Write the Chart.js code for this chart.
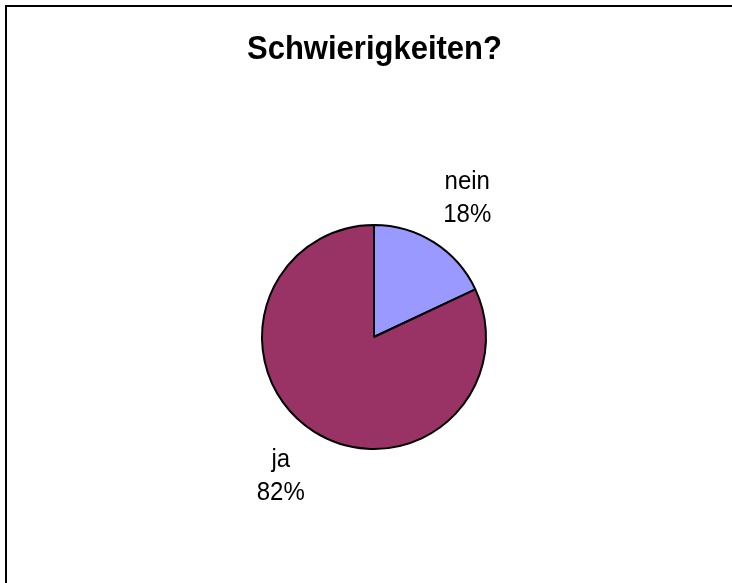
<!DOCTYPE html>
<html>
<head>
<meta charset="utf-8">
<script src="https://cdn.jsdelivr.net/npm/chart.js@4/dist/chart.umd.min.js"></script>
<style>
  html, body { margin: 0; padding: 0; background: #fff; }
  #wrap { position: relative; width: 732px; height: 583px; }
  #frame {
    position: absolute; left: 5px; top: 5px; right: 0; bottom: 0;
    border-top: 2px solid #000; border-left: 2px solid #000;
    pointer-events: none;
  }
</style>
</head>
<body>
<div id="wrap">
  <canvas id="pie" width="732" height="583"></canvas>
  <div id="frame"></div>
</div>
<script>
// chart data
const title = "Schwierigkeiten?";
const categories = ["nein", "ja"];
const shares = [18, 82];
const sliceColors = ["#9999FF", "#993366"];

// text drawn a little taller than wide, like the original export
function stretchedText(ctx, text, x, y, sy) {
  ctx.save();
  ctx.translate(x, y);
  ctx.scale(1, sy);
  ctx.fillText(text, 0, 0);
  ctx.restore();
}

// draws title and the outside "name / percent" labels
const labelPlugin = {
  id: "labels",
  afterDraw(chart) {
    const ctx = chart.ctx;
    ctx.save();
    ctx.fillStyle = "#000";
    ctx.textAlign = "center";
    ctx.textBaseline = "alphabetic";
    ctx.font = "bold 31px 'Liberation Sans', Arial, sans-serif";
    stretchedText(ctx, title, 374.5, 59, 1.1);

    ctx.font = "24px 'Liberation Sans', Arial, sans-serif";
    const meta = chart.getDatasetMeta(0);
    meta.data.forEach((arc, i) => {
      const mid = (arc.startAngle + arc.endAngle) / 2;
      const cos = Math.cos(mid), sin = Math.sin(mid);
      const dist = arc.outerRadius + 30;
      // push the label box outward so its near edge sits at dist
      const cx = arc.x + cos * dist + cos * 32;
      const cy = arc.y + sin * dist + sin * 23;
      stretchedText(ctx, categories[i], cx, cy - 9, 1.1);
      stretchedText(ctx, shares[i] + "%", cx, cy + 24, 1.1);
    });
    ctx.restore();
  }
};

new Chart(document.getElementById("pie"), {
  type: "pie",
  data: {
    labels: categories,
    datasets: [{
      data: shares,
      backgroundColor: sliceColors,
      borderColor: "#000",
      borderWidth: 2,
    }],
  },
  options: {
    responsive: false,
    animation: false,
    layout: { padding: { left: 261, right: 245, top: 224, bottom: 133 } },
    plugins: {
      legend: { display: false },
      title: { display: false },
      tooltip: { enabled: false },
    },
  },
  plugins: [labelPlugin],
});
</script>
</body>
</html>
